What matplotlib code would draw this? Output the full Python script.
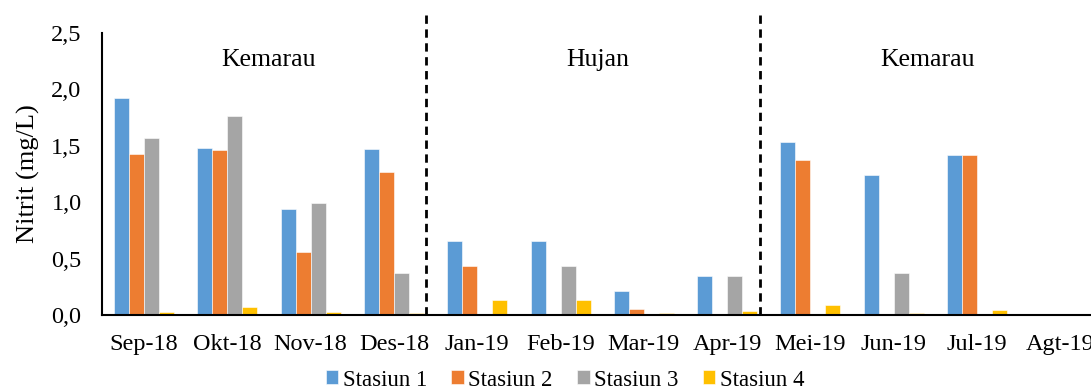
import numpy as np
import matplotlib
matplotlib.use("Agg")
import matplotlib.pyplot as plt

plt.rcParams['font.family'] = ['Liberation Serif', 'DejaVu Serif']

# data
months = ['Sep-18', 'Okt-18', 'Nov-18', 'Des-18', 'Jan-19', 'Feb-19',
          'Mar-19', 'Apr-19', 'Mei-19', 'Jun-19', 'Jul-19', 'Agt-19']
stasiun1 = [1.92, 1.48, 0.94, 1.47, 0.66, 0.66, 0.21, 0.35, 1.53, 1.24, 1.42, 0.005]
stasiun2 = [1.43, 1.46, 0.56, 1.27, 0.43, 0.0, 0.05, 0.0, 1.37, 0.0, 1.42, 0.0]
stasiun3 = [1.57, 1.76, 0.99, 0.37, 0.0, 0.43, 0.0, 0.35, 0.0, 0.37, 0.0, 0.005]
stasiun4 = [0.03, 0.07, 0.03, 0.015, 0.13, 0.13, 0.015, 0.035, 0.09, 0.015, 0.04, 0.01]
series = ['Stasiun 1', 'Stasiun 2', 'Stasiun 3', 'Stasiun 4']
colors = ['#5B9BD5', '#ED7D31', '#A5A5A5', '#FFC000']
seasons = ['Kemarau', 'Hujan', 'Kemarau']
season_x = [1.49, 5.45, 9.4]
dividers = [3.39, 7.4]

fig = plt.figure(figsize=(10.91, 3.90), dpi=100)
ax = fig.add_axes([102.4 / 1091, 75 / 390, 999.6 / 1091, 282 / 390])

x = np.arange(len(months))
w = 0.18
for i, vals in enumerate([stasiun1, stasiun2, stasiun3, stasiun4]):
    ax.bar(x + (i - 1.5) * w, vals, width=w, color=colors[i],
           edgecolor='white', linewidth=0.4, label=series[i])

ax.set_xlim(-0.5, 11.5)
ax.set_ylim(0, 2.5)
ax.set_yticks(np.arange(0, 2.51, 0.5))
ax.set_yticklabels([f"{v:.1f}".replace('.', ',') for v in np.arange(0, 2.51, 0.5)])
ax.set_xticks(x)
ax.set_xticklabels(months)
ax.tick_params(axis='both', length=0, labelsize=17.5)
ax.tick_params(axis='x', pad=14)
ax.tick_params(axis='y', pad=15)
ax.set_ylabel('Nitrit (mg/L)', fontsize=19, labelpad=8)

for s in ['top', 'right']:
    ax.spines[s].set_visible(False)
for s in ['left', 'bottom']:
    ax.spines[s].set_color('black')
    ax.spines[s].set_linewidth(1.5)

for d in dividers:
    ax.plot([d, d], [0, 2.69], color='black', linestyle=(0, (3, 2)),
            linewidth=2, clip_on=False)

for lab, sx in zip(seasons, season_x):
    ax.text(sx, 2.26, lab, ha='center', va='center', fontsize=18.5)

fig.legend(loc='center', bbox_to_anchor=(565 / 1091, 1 - 380 / 390), ncol=4,
           frameon=False, fontsize=16.5, handlelength=0.55, handleheight=0.55,
           handletextpad=0.2, columnspacing=1.05, borderpad=0)

fig.savefig('out.png', dpi=100)
